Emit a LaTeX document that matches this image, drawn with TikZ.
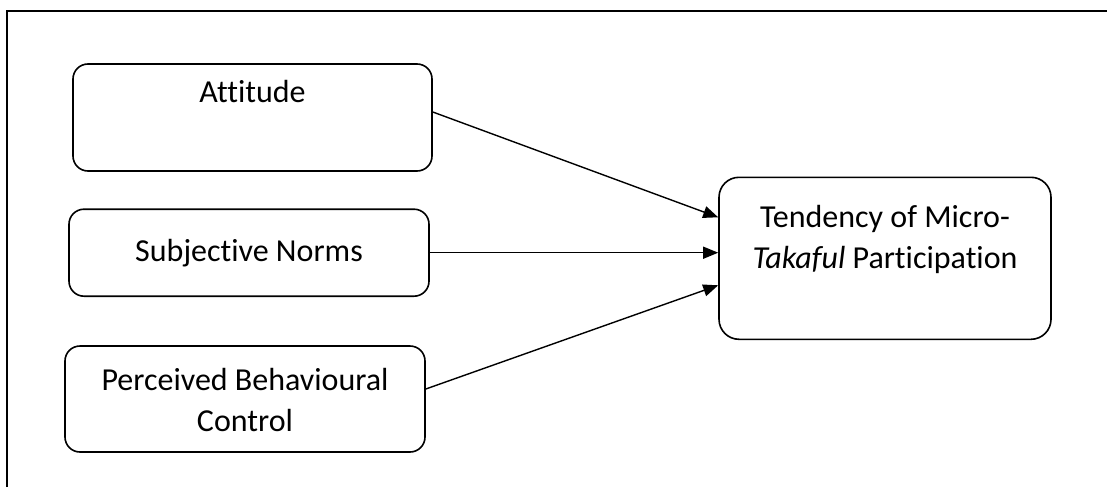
\documentclass[tikz,border=0pt]{standalone}
\usepackage{fontspec}
\setmainfont{Carlito}[Ligatures={NoCommon}]
\usetikzlibrary{arrows.meta,calc}
\tikzset{
  box/.style={draw, line width=1.6pt, inner sep=0pt},
  lbl/.style={font=\fontsize{32}{41}\selectfont, align=center, inner sep=0pt},
  link/.style={line width=1.4pt, -{Triangle[length=15pt,width=12pt]}},
}
\begin{document}
\begin{tikzpicture}[x=1pt,y=-1pt]
\useasboundingbox (0,0) rectangle (1107,487);
% frame
\draw[line width=2pt] (7,487) -- (7,11.5) -- (1107,11.5);
% boxes
\node[box, rounded corners=15pt, minimum width=359pt, minimum height=107pt] (att) at (252.5,117.5) {};
\node[box, rounded corners=15pt, minimum width=360pt, minimum height=87pt] (subj) at (249,252.7) {};
\node[box, rounded corners=15pt, minimum width=360pt, minimum height=106pt] (pbc) at (245,399) {};
\node[box, rounded corners=20pt, minimum width=332pt, minimum height=162pt] (tend) at (885,258.3) {};
% texts
\node[lbl] (att-t) at (252.5,92) {Attitude};
\node[lbl] (subj-t) at (249,253) {Subjective Norms};
\node[lbl] (pbc-t) at (245,400) {Perceived Behavioural\\Control};
\node[lbl] (tend-t) at (885,239) {Tendency of Micro-\\\textit{Takaful} Participation};
% connectors
\draw[link] ($(att.east)+(0,-5.5)$) -- ($(tend.west)+(0,-41)$);
\draw[link] (subj.east) -- (subj.east -| tend.west);
\draw[link] ($(pbc.east)+(0,-10)$) -- ($(tend.west)+(0,27)$);
\end{tikzpicture}
\end{document}
